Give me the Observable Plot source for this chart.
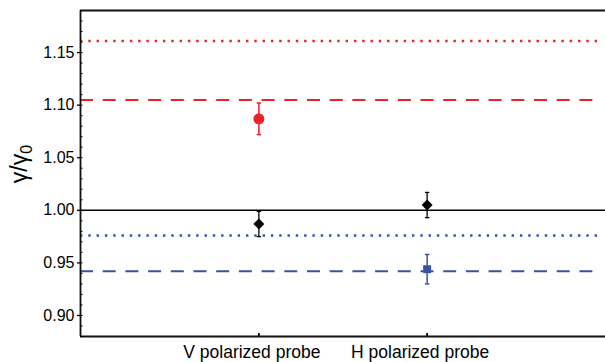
<!DOCTYPE html>
<html><head><meta charset="utf-8">
<script src="https://cdn.jsdelivr.net/npm/d3@7"></script>
<script src="https://cdn.jsdelivr.net/npm/@observablehq/plot@0.6"></script>
<style>body{margin:0;background:#fff}</style>
</head><body><div id="chart"></div>
<script>
// ---- data ----
const categories = ["V polarized probe", "H polarized probe"];
const categoryX = [1, 2];
const yTickValues = [0.90, 0.95, 1.00, 1.05, 1.10, 1.15];
const yMinorTicks = d3.range(88, 120).map(d => d / 100);
const yDomain = [0.88, 1.19];
const xDomain = [-0.06, 3.06];

const blackValues = [0.987, 1.005];
const blackErrors = [0.012, 0.012];
const redX = [1];
const redValues = [1.087];
const redErrors = [0.015];
const blueX = [2];
const blueValues = [0.944];
const blueErrors = [0.014];

const baselineLevel = [1.0];
const redDashedLevel = [1.105];
const redDottedLevel = [1.161];
const blueDashedLevel = [0.942];
const blueDottedLevel = [0.976];

const RED = "#ed2129";
const BLUE = "#3953a4";

const pts = (xs, vs, es) => xs.map((x, i) => ({x, y: vs[i], lo: vs[i] - es[i], hi: vs[i] + es[i]}));
const black = pts(categoryX, blackValues, blackErrors);
const red = pts(redX, redValues, redErrors);
const blue = pts(blueX, blueValues, blueErrors);

const capSymbol = {draw(ctx, size) { const w = Math.sqrt(size / Math.PI); ctx.moveTo(-w, 0); ctx.lineTo(w, 0); }};

function errorMarks(data, color, sw) {
  return [
    Plot.ruleX(data, {x: "x", y1: "lo", y2: "hi", stroke: color, strokeWidth: sw}),
    Plot.dot(data, {x: "x", y: "lo", symbol: capSymbol, r: 2.2, stroke: color, strokeWidth: sw}),
    Plot.dot(data, {x: "x", y: "hi", symbol: capSymbol, r: 2.2, stroke: color, strokeWidth: sw})
  ];
}

const chart = Plot.plot({
  width: 605,
  height: 362,
  marginLeft: 80,
  marginRight: 0,
  marginTop: 10,
  marginBottom: 26,
  style: {fontFamily: "'Liberation Sans', Arial, sans-serif", color: "#000", background: "#fff"},
  x: {type: "linear", domain: xDomain, axis: null},
  y: {domain: yDomain, axis: null},
  marks: [
    // reference lines
    Plot.ruleY(redDottedLevel, {stroke: RED, strokeWidth: 2.4, strokeDasharray: "2.4,5.9", insetRight: 7}),
    Plot.ruleY(redDashedLevel, {stroke: RED, strokeWidth: 2, strokeDasharray: "13,9.7", insetRight: 7}),
    Plot.ruleY(blueDottedLevel, {stroke: BLUE, strokeWidth: 2.4, strokeDasharray: "2.4,5.9", insetRight: 7}),
    Plot.ruleY(blueDashedLevel, {stroke: BLUE, strokeWidth: 2, strokeDasharray: "13,9.7", insetRight: 7}),
    Plot.ruleY(baselineLevel, {stroke: "#000", strokeWidth: 1.5}),
    // frame top / bottom / left
    Plot.ruleY(yDomain, {stroke: "#111", strokeWidth: 1.8}),
    Plot.ruleX([xDomain[0]], {stroke: "#111", strokeWidth: 1.8}),
    // y axis
    Plot.axisY({ticks: yTickValues, tickFormat: d3.format(".2f"), tickSize: 3, tickPadding: 3, fontSize: 16, strokeWidth: 1.3, label: null}),
    Plot.axisY({ticks: yMinorTicks, tickSize: 2.5, dx: 2.5, text: null, strokeWidth: 1, label: null}),
    // x axis
    Plot.axisX({ticks: categoryX, tickSize: 3, dy: -3, text: null, strokeWidth: 1.8, label: null}),
    Plot.axisX({ticks: categoryX, tickFormat: d => categories[categoryX.indexOf(d)], tickSize: 0, tickPadding: 9, fontSize: 17.5, dx: -7, label: null}),
    // error bars
    ...errorMarks(red, RED, 1.5),
    ...errorMarks(black, "#000", 1.3),
    ...errorMarks(blue, BLUE, 1.5),
    // markers
    Plot.dot(red, {x: "x", y: "y", r: 5.5, fill: RED, symbol: "circle"}),
    Plot.dot(black, {x: "x", y: "y", r: 4.95, fill: "#000", symbol: "diamond2"}),
    Plot.dot(blue, {x: "x", y: "y", r: 4.5, fill: BLUE, symbol: "square"})
  ]
});

// y axis title gamma/gamma_0
const svg = d3.select(chart);
const t = svg.append("text")
  .attr("transform", "translate(27,164) rotate(-90)")
  .attr("text-anchor", "middle")
  .attr("font-size", 23)
  .attr("font-family", "'Liberation Sans', Arial, sans-serif")
  .attr("fill", "#000");
t.append("tspan").text("γ/γ");
t.append("tspan").attr("font-size", 16).attr("dy", 5).text("0");

document.getElementById("chart").appendChild(chart);
</script>
</body></html>
